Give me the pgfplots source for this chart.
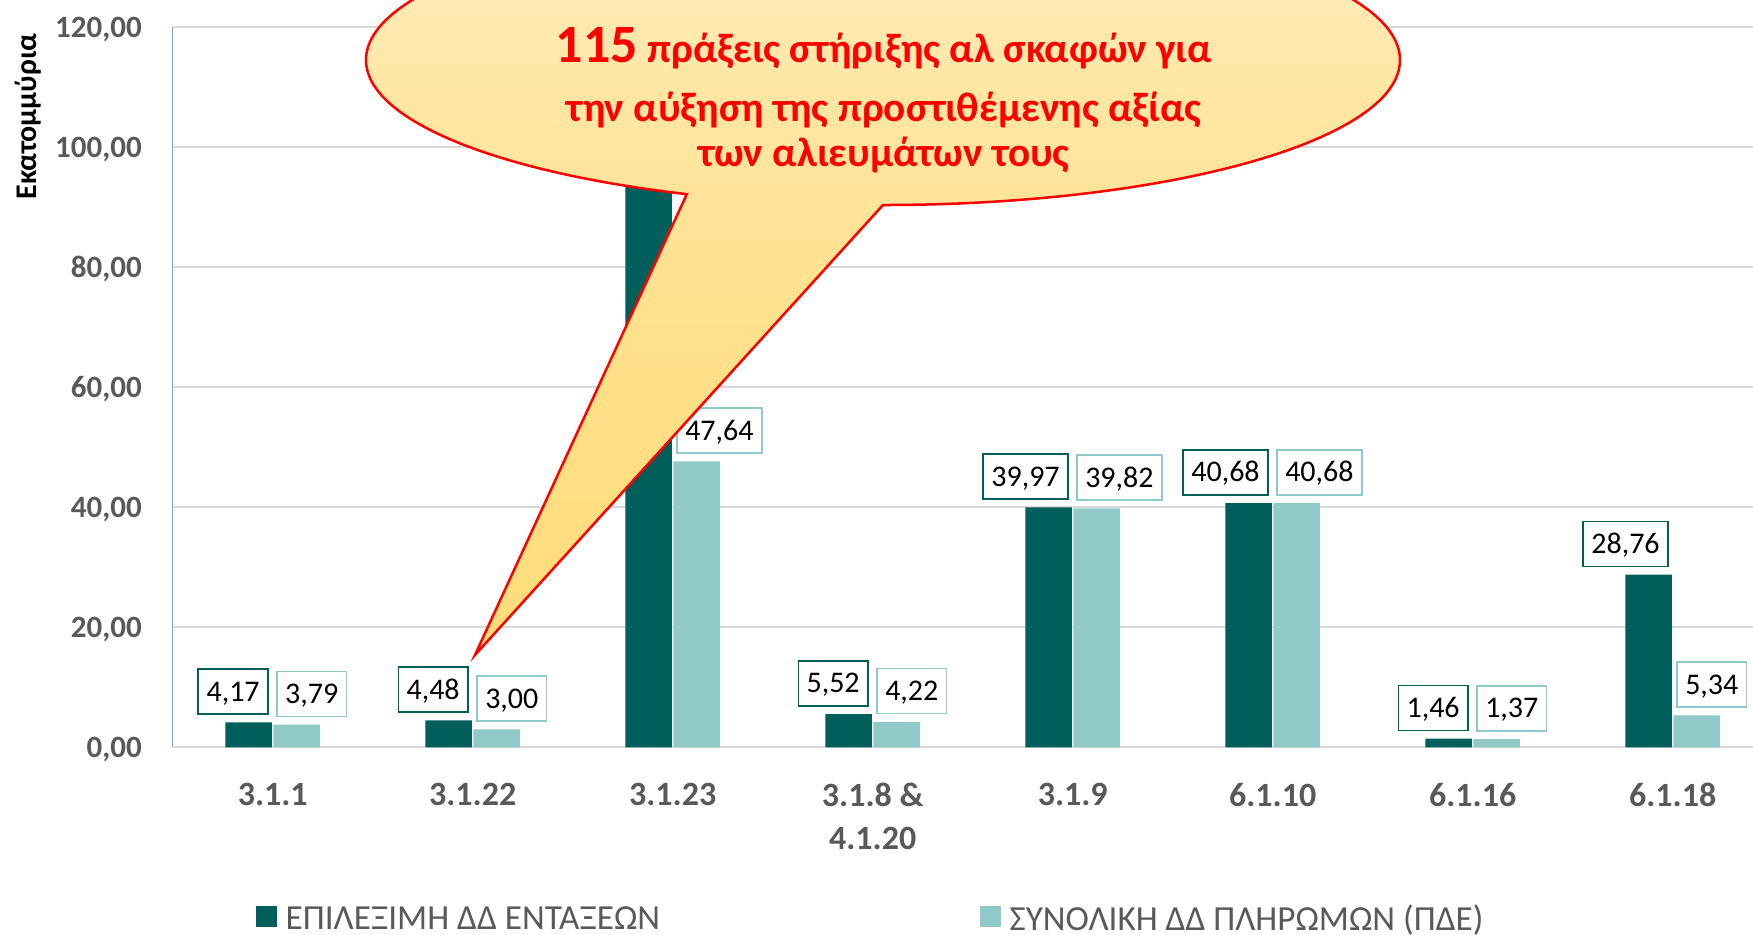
\documentclass[border=0pt]{standalone}
\usepackage{fontspec}
\setmainfont{Carlito}
\usepackage{pgfplots}
\pgfplotsset{compat=1.18}

\definecolor{darkteal}{HTML}{005F5A}
\definecolor{lightteal}{HTML}{8FC9C8}
\definecolor{txtgray}{HTML}{595959}
\definecolor{gridgray}{HTML}{D9D9D9}
\definecolor{axblue}{HTML}{6FA8DC}
\definecolor{cgold}{HTML}{FFD966}
\definecolor{cmid}{HTML}{FFE08A}
\definecolor{cmidb}{HTML}{FFE6A2}
\definecolor{clight}{HTML}{FFEDBE}
\definecolor{cpale}{HTML}{FFF5DA}
\definecolor{ccream}{HTML}{FFFDF5}
\pgfdeclareverticalshading{callout}{100bp}{color(0bp)=(cgold); color(45bp)=(cmid); color(62bp)=(cmidb); color(75bp)=(clight); color(88bp)=(cpale); color(100bp)=(ccream)}

\begin{document}
\begin{tikzpicture}
\begin{axis}[
  x=200pt, y=6pt,
  xmin=-0.5, xmax=7.5, ymin=0, ymax=120,
  ybar=1.5pt, bar width=46.5pt,
  axis x line*=bottom, axis y line*=left,
  axis line style={-},
  x axis line style={draw=gridgray, line width=2pt},
  y axis line style={draw=axblue, line width=1.5pt},
  major tick length=0pt,
  ytick={0,20,...,120},
  ymajorgrids, grid style={draw=gridgray, line width=2pt},
  xtick={0,...,7},
  xticklabels={3.1.1,3.1.22,3.1.23,{3.1.8 \&\\4.1.20},3.1.9,6.1.10,6.1.16,6.1.18},
  xticklabel style={font=\fontsize{34}{43}\selectfont\bfseries, text=txtgray, align=center, anchor=north, inner sep=0pt, yshift=-36pt},
  yticklabel style={font=\fontsize{31}{37}\selectfont\bfseries, text=txtgray, anchor=base east, inner sep=0pt, xshift=-30.7pt, yshift=-9.8pt},
  /pgf/number format/fixed, /pgf/number format/fixed zerofill,
  /pgf/number format/precision=2, /pgf/number format/use comma,
  /pgf/number format/assume math mode=true,
  ylabel={Εκατομμύρια},
  ylabel style={at={(axis description cs:-0.0904,0.876)}, anchor=center, font=\fontsize{30}{36}\selectfont\bfseries, text=black, inner sep=0pt},
  legend style={at={(axis cs:-0.0835,-28.54)}, anchor=west, draw=none, fill=none, inner sep=0pt,
    font=\fontsize{35.2}{42}\selectfont, text=txtgray, nodes={inner sep=0pt},
    /tikz/every odd column/.append style={column sep=8.5pt},
    /tikz/every even column/.append style={column sep=320pt}},
  legend columns=2,
  legend image code/.code={\path[#1] (0pt,-8pt) rectangle (21pt,13pt);},
]
\addplot[fill=darkteal, draw=none, nodes near coords,
  every node near coord/.append style={anchor=south east, xshift=20pt, yshift=7.5pt, draw=darkteal, line width=1.5pt, fill=white, text=black, font=\fontsize{30}{36}\selectfont, inner xsep=8.3pt, inner ysep=13pt, text height=19pt, text depth=0pt}]
  coordinates {(0,4.17) (1,4.48) (2,108) (3,5.52) (4,39.97) (5,40.68) (6,1.46) (7,28.76)};
\addlegendentry{ΕΠΙΛΕΞΙΜΗ ΔΔ ΕΝΤΑΞΕΩΝ}
\addplot[fill=lightteal, draw=none, nodes near coords,
  every node near coord/.append style={anchor=south west, xshift=-20.5pt, yshift=7.5pt, draw=lightteal, line width=1.5pt, fill=white, text=black, font=\fontsize{30}{36}\selectfont, inner xsep=8.3pt, inner ysep=13pt, text height=19pt, text depth=0pt}]
  coordinates {(0,3.79) (1,3.00) (2,47.64) (3,4.22) (4,39.82) (5,40.68) (6,1.37) (7,5.34)};
\addlegendentry{ΣΥΝΟΛΙΚΗ ΔΔ ΠΛΗΡΩΜΩΝ (ΠΔΕ)}
\coordinate (BL) at (axis cs:-1.3635,-31.28);
\coordinate (TR) at (axis cs:7.4015,124.55);
\coordinate (EB) at (axis cs:3.0515,90.38);
\coordinate (TIP) at (axis cs:1.0115,15.38);
\coordinate (T2) at (axis cs:3.0565,114.05);
\coordinate (T3) at (axis cs:3.0565,104.22);
\coordinate (T4) at (axis cs:3.0565,96.72);
\end{axis}
\shadedraw[shading=callout, draw=red, line width=2.5pt, line join=miter]
  (EB) arc[start angle=270, end angle=607.7, x radius=517pt, y radius=145pt] -- (TIP) -- cycle;
\begin{scope}[every node/.style={anchor=base, text=red, inner sep=0pt, font=\bfseries\fontsize{41.3}{50}\selectfont}]
\node at (T2) {{\fontsize{54}{64}\selectfont 115} πράξεις στήριξης αλ σκαφών για};
\node at (T3) {την αύξηση της προστιθέμενης αξίας};
\node at (T4) {των αλιευμάτων τους};
\end{scope}
\pgfresetboundingbox
\path[use as bounding box] (BL) rectangle (TR);
\end{tikzpicture}
\end{document}
